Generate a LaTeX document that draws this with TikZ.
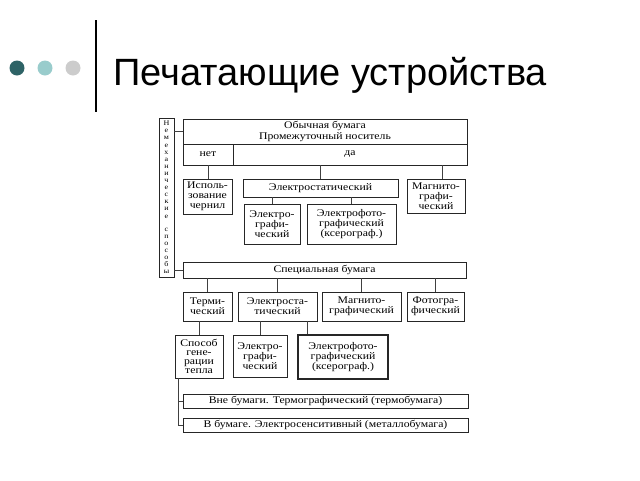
\documentclass[tikz,border=0pt]{standalone}
\usepackage{fontspec}
\setmainfont{Liberation Serif}[FakeStretch=1.15]
\newfontfamily\titlefont{Liberation Sans}
\usetikzlibrary{calc,shadows}
\definecolor{dotA}{HTML}{2E6366}
\definecolor{dotB}{HTML}{99CCCC}
\definecolor{dotC}{HTML}{CCCCCC}
\begin{document}
\begin{tikzpicture}[x=1pt,y=-1pt,
  box/.style={draw=black!85, line width=0.7pt, fill=white, inner sep=0pt, align=center,
    font=\fontsize{10.2}{10}\selectfont,
    drop shadow={shadow xshift=0.8pt,shadow yshift=-0.8pt,fill=black!40,opacity=1}},
  plain/.style={draw=black!85, line width=0.7pt, fill=white, inner sep=0pt, align=center,
    font=\fontsize{10.2}{10.8}\selectfont},
  conn/.style={draw=black!75, line width=0.8pt},
  dot/.style={circle, inner sep=0pt, minimum size=15}]
\useasboundingbox (0,0) rectangle (640,480);
% header
\node[dot, fill=dotA] (d1) at (17,68) {};
\node[dot, fill=dotB] (d2) at (45,68) {};
\node[dot, fill=dotC] (d3) at (73,68) {};
\draw[line width=2.4pt] (96,20) -- (96,112);
\node[font=\titlefont\fontsize{38}{38}\selectfont, anchor=base west, inner sep=0pt] (title) at (113,85) {Печатающие устройства};
% left vertical box
\node[plain, minimum width=15, minimum height=159] (vb) at (166.5,197.5) {};
\node[font=\fontsize{7}{7.1}\selectfont, align=center, inner sep=0pt] (vbt) at (vb.center)
  {Н\\е\\м\\е\\х\\а\\н\\и\\ч\\е\\с\\к\\и\\е\\[6pt]с\\п\\о\\с\\о\\б\\ы};
% upper part
\node[plain, minimum width=284, minimum height=25] (ob) at (325,131.5) {Обычная бумага\\Промежуточный носитель};
\node[plain, minimum width=50, minimum height=21] (net) at (208,154.5) {нет};
\node[plain, minimum width=234, minimum height=21] (da) at (350,154.5) {да};
\node[box, minimum width=49, minimum height=35] (isp) at (207.5,196.5) {Исполь-\\зование\\чернил};
\node[box, minimum width=155, minimum height=18] (es1) at (320.5,188) {Электростатический};
\node[box, minimum width=58, minimum height=34] (mg1) at (436,196) {Магнито-\\графи-\\ческий};
\node[box, minimum width=56, minimum height=40] (eg1) at (272,224) {Электро-\\графи-\\ческий};
\node[box, minimum width=89, minimum height=40] (ef1) at (351.5,224) {Электрофото-\\графический\\(ксерограф.)};
% lower part
\node[box, minimum width=283, minimum height=16] (sp) at (324.5,270) {Специальная бумага};
\node[box, minimum width=49, minimum height=29] (term) at (207.5,306.5) {Терми-\\ческий};
\node[box, minimum width=79, minimum height=29] (es2) at (277.5,306.5) {Электроста-\\тический};
\node[box, minimum width=79, minimum height=29] (mg2) at (361.5,306.5) {Магнито-\\графический};
\node[box, minimum width=57, minimum height=29] (fg) at (435.5,306.5) {Фотогра-\\фический};
\node[box, minimum width=48, minimum height=43, font=\fontsize{10.2}{9}\selectfont] (spo) at (199,356.5) {Способ\\гене-\\рации\\тепла};
\node[box, minimum width=54, minimum height=42] (eg2) at (260,356) {Электро-\\графи-\\ческий};
\node[box, minimum width=90, minimum height=44, line width=1.1pt] (ef2) at (343,357) {Электрофото-\\графический\\(ксерограф.)};
\node[box, minimum width=285, minimum height=14] (vne) at (325.5,401) {Вне бумаги. Термографический (термобумага)};
\node[box, minimum width=285, minimum height=14] (vbu) at (325.5,425) {В бумаге. Электросенситивный (металлобумага)};
% connectors
\draw[conn] (ob.west -| vb.east) -- (ob.west);
\draw[conn] (sp.west -| vb.east) -- (sp.west);
\draw[conn] (net.south) -- (net.south |- isp.north);
\draw[conn] (da.south -| es1.north) -- (es1.north);
\path (mg1.north) ++(6,0) coordinate (mgc);
\draw[conn] (da.south -| mgc) -- (mgc);
\draw[conn] (es1.south -| eg1.north) -- (eg1.north);
\draw[conn] (es1.south -| ef1.north) -- (ef1.north);
\draw[conn] (sp.south -| term.north) -- (term.north);
\draw[conn] (sp.south -| es2.north) -- (es2.north);
\draw[conn] (sp.south -| mg2.north) -- (mg2.north);
\draw[conn] (sp.south -| fg.north) -- (fg.north);
\draw[conn] (term.south -| spo.north) -- (spo.north);
\draw[conn] (es2.south -| eg2.north) -- (eg2.north);
\path (es2.south) ++(29.5,0) coordinate (e2r);
\draw[conn] (e2r) -- (e2r |- ef2.north);
\path (spo.south west) ++(4,0) coordinate (sl);
\draw[conn] (sl) -- (sl |- vbu.west) -- (vbu.west);
\draw[conn] (sl |- vne.west) -- (vne.west);
\end{tikzpicture}
\end{document}
